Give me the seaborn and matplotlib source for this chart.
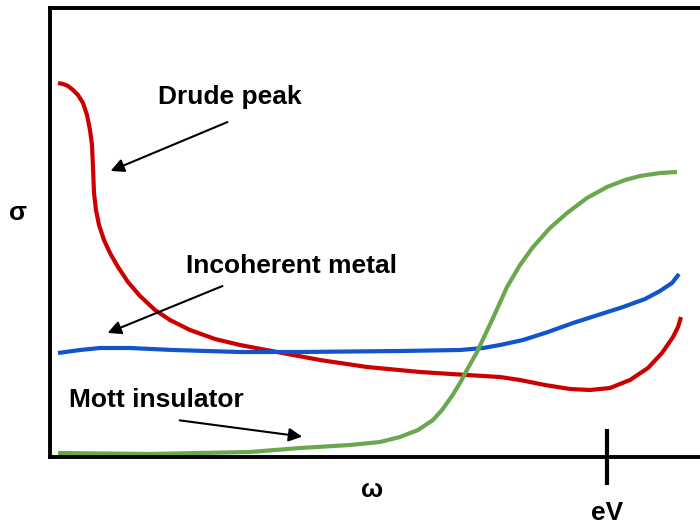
import seaborn as sns
import pandas as pd
import matplotlib.pyplot as plt

# Curvas (x = frequência, y = condutividade, unidades arbitrárias)
drude_x = [8, 13, 18, 23, 28, 33, 37, 40, 42, 43, 43, 44, 46, 49, 54, 60, 68, 78, 90, 105, 120, 140, 165, 190,
           227, 270, 317, 370, 417, 450, 470, 495, 520, 540, 560, 580, 598, 612, 623, 628, 631]
drude_y = [374, 373, 371, 367, 362, 354, 342, 327, 312, 297, 282, 264, 247, 232, 217, 204, 190, 175, 161, 147, 137,
           127, 118, 112, 105, 97, 90, 85, 82, 80, 77, 72, 68, 67, 69, 77, 89, 104, 120, 130, 140]

incoh_x = [8, 30, 50, 80, 123, 190, 250, 350, 410, 433, 450, 473, 498, 523, 548, 573, 595, 610, 622, 629]
incoh_y = [104, 107, 109, 109, 107, 105, 105, 106, 107, 109, 112, 117, 125, 134, 142, 150, 158, 166, 174, 183]

mott_x = [8, 100, 200, 250, 300, 330, 350, 368, 383, 392, 402, 410, 418, 427, 435, 443, 457, 470, 483, 500,
          517, 537, 557, 575, 590, 610, 627]
mott_y = [4, 3, 5, 9, 12, 15, 20, 27, 37, 47, 61, 74, 89, 105, 122, 139, 170, 192, 210, 229,
          244, 259, 270, 277, 281, 284, 285]

eV_pos = 557

sns.set_style('white')
plt.rcParams['font.family'] = ['Liberation Sans', 'DejaVu Sans']
plt.rcParams['font.weight'] = 'bold'
plt.rcParams['text.color'] = 'black'

fig = plt.figure(figsize=(7, 5.27), dpi=100)
ax = fig.add_axes([50/700, 70/527, 680/700, 449/527])

drude = pd.DataFrame({'w': drude_x, 's': drude_y})
incoh = pd.DataFrame({'w': incoh_x, 's': incoh_y})
mott = pd.DataFrame({'w': mott_x, 's': mott_y})

estilo = dict(lw=3, solid_joinstyle='round', solid_capstyle='butt', sort=False, ax=ax)
sns.lineplot(data=drude, x='w', y='s', color='#CC0000', **estilo)
sns.lineplot(data=incoh, x='w', y='s', color='#1155CC', **estilo)
sns.lineplot(data=mott, x='w', y='s', color='#6AA84F', clip_on=False, **estilo)

ax.set_xlim(0, 680)
ax.set_ylim(0, 449)

for s in ['left', 'top', 'bottom']:
    ax.spines[s].set_linewidth(2.8)
    ax.spines[s].set_color('black')
ax.spines['right'].set_visible(False)

ax.set_yticks([])
ax.set_xticks([eV_pos])
ax.set_xticklabels(['eV'], fontsize=19, fontweight='bold', color='black')
ax.tick_params(axis='x', bottom=True, direction='inout', length=40, width=3, pad=12, color='black')

ax.set_xlabel('ω', fontsize=19, fontweight='bold', color='black')
ax.xaxis.set_label_coords(322/680, -33/449)
ax.xaxis.label.set_va('center')
ax.set_ylabel('σ', fontsize=19, fontweight='bold', rotation=0, color='black')
ax.yaxis.set_label_coords(-32/680, 244/449)
ax.yaxis.label.set_va('center')

seta = dict(arrowstyle='-|>', lw=1.5, color='black', mutation_scale=20)
ax.text(180, 360, 'Drude peak', fontsize=19, fontweight='bold', ha='center', va='center')
ax.annotate('', xy=(58, 285), xytext=(180, 336), arrowprops=seta)
ax.text(242, 191, 'Incoherent metal', fontsize=19, fontweight='bold', ha='center', va='center')
ax.annotate('', xy=(55, 123), xytext=(175, 172), arrowprops=seta)
ax.text(106, 57, 'Mott insulator', fontsize=19, fontweight='bold', ha='center', va='center')
ax.annotate('', xy=(255, 20), xytext=(127, 37), arrowprops=seta)

plt.savefig('out.png', dpi=100)
